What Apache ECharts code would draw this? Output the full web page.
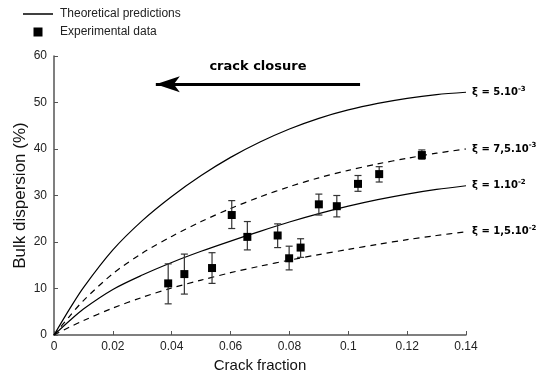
<!DOCTYPE html>
<html>
<head>
<meta charset="utf-8">
<script src="https://cdn.jsdelivr.net/npm/echarts@6/dist/echarts.min.js"></script>
<style>
  html, body { margin: 0; padding: 0; background: #fff; }
  #main { width: 537px; height: 370px; }
</style>
</head>
<body>
<div id="main"></div>
<script>
// crack fraction values where the model curves were read
const curveX = [0, 0.005, 0.01, 0.02, 0.03, 0.04, 0.05, 0.06, 0.07, 0.08, 0.09, 0.10, 0.11, 0.12, 0.13, 0.14];
// theoretical predictions (bulk dispersion %)
const xi5e3   = [0, 5.3, 10.2, 18.3, 24.6, 29.8, 34.3, 38.2, 41.5, 44.3, 46.6, 48.4, 49.8, 50.9, 51.7, 52.2];
const xi75e3  = [0, 3.8, 7.4, 13.2, 17.6, 21.2, 24.4, 27.2, 29.7, 31.9, 33.8, 35.4, 36.8, 38.0, 39.1, 40.0];
const xi1e2   = [0, 2.9, 5.6, 9.8, 12.9, 15.6, 18.0, 20.2, 22.3, 24.3, 26.1, 27.7, 29.1, 30.3, 31.3, 32.1];
const xi15e2  = [0, 1.6, 3.1, 5.8, 8.1, 10.1, 11.8, 13.4, 14.8, 16.1, 17.3, 18.4, 19.5, 20.5, 21.4, 22.2];

// experimental data
const expX    = [0.0388, 0.0443, 0.0537, 0.0604, 0.0657, 0.076, 0.0799, 0.0838, 0.090, 0.0961, 0.1033, 0.1105, 0.125];
const expY    = [11.1, 13.1, 14.4, 25.8, 21.1, 21.4, 16.5, 18.8, 28.1, 27.7, 32.5, 34.6, 38.7];
const expLow  = [6.7, 8.8, 11.1, 22.9, 18.3, 18.8, 14.0, 16.7, 25.8, 25.4, 30.9, 32.9, 37.8];
const expHigh = [15.3, 17.4, 17.7, 28.9, 24.4, 23.9, 19.1, 20.7, 30.3, 30.0, 34.3, 36.2, 39.8];

// "crack closure" arrow, in data units
const arrowFrom = [0.104, 53.9];
const arrowTo   = [0.0346, 53.9];

const zip = (xs, ys) => xs.map((x, i) => [x, ys[i]]);

const labelRich = {
  a: { fontFamily: 'DejaVu Sans', fontWeight: 'bold', fontSize: 10, color: '#000' },
  s: { fontFamily: 'DejaVu Sans', fontWeight: 'bold', fontSize: 7, color: '#000', padding: [0, 0, 7, 0] }
};

function curve(data, dashed, label) {
  return {
    name: 'Theoretical predictions',
    type: 'line',
    data: data,
    showSymbol: false,
    smooth: 0.3,
    color: '#000',
    lineStyle: { color: '#000', width: 1.2, type: dashed ? [6, 5] : 'solid' },
    endLabel: {
      show: true,
      distance: 6,
      formatter: label,
      rich: labelRich
    },
    silent: true,
    z: 2
  };
}

const chart = echarts.init(document.getElementById('main'));

const option = {
  animation: false,
  legend: [
    {
      data: [{ name: 'Theoretical predictions', icon: 'rect' }],
      left: 23,
      top: 8,
      padding: 0,
      itemWidth: 30,
      itemHeight: 1.5,
      textStyle: { fontFamily: 'Liberation Sans', fontSize: 12, color: '#222', padding: [0, 0, 0, 2] }
    },
    {
      data: [{ name: 'Experimental data', icon: 'rect' }],
      left: 33.5,
      top: 26,
      padding: 0,
      itemWidth: 9,
      itemHeight: 9,
      textStyle: { fontFamily: 'Liberation Sans', fontSize: 12, color: '#222', padding: [0, 0, 0, 12.5] }
    }
  ],
  grid: { left: 54, right: 71, top: 56, bottom: 35, outerBoundsMode: 'none' },
  xAxis: {
    type: 'value',
    min: 0,
    max: 0.14,
    interval: 0.02,
    name: 'Crack fraction',
    nameLocation: 'middle',
    nameGap: 20,
    nameTextStyle: { fontFamily: 'Liberation Sans', fontSize: 15, color: '#111' },
    axisLine: { lineStyle: { color: '#555', width: 1.5 } },
    axisTick: { inside: true, length: 4, lineStyle: { color: '#555' } },
    axisLabel: { fontFamily: 'Liberation Sans', fontSize: 12, color: '#222', margin: 6 },
    splitLine: { show: false }
  },
  yAxis: {
    type: 'value',
    min: 0,
    max: 60,
    interval: 10,
    name: 'Bulk dispersion (%)',
    nameLocation: 'middle',
    nameGap: 25,
    nameMoveOverlap: false,
    nameTextStyle: { fontFamily: 'Liberation Sans', fontSize: 17, color: '#111' },
    axisLine: { show: true, lineStyle: { color: '#555', width: 1.5 } },
    axisTick: { show: true, inside: true, length: 4, lineStyle: { color: '#555' } },
    axisLabel: { fontFamily: 'Liberation Sans', fontSize: 12, color: '#222', margin: 7 },
    splitLine: { show: false }
  },
  series: [
    curve(zip(curveX, xi5e3), false, '{a|ξ = 5.10}{s|-3}'),
    curve(zip(curveX, xi75e3), true, '{a|ξ = 7,5.10}{s|-3}'),
    curve(zip(curveX, xi1e2), false, '{a|ξ = 1.10}{s|-2}'),
    curve(zip(curveX, xi15e2), true, '{a|ξ = 1,5.10}{s|-2}'),
    {
      name: 'errors',
      type: 'custom',
      data: expX.map((x, i) => [x, expLow[i], expHigh[i]]),
      renderItem: function (params, api) {
        const lo = api.coord([api.value(0), api.value(1)]);
        const hi = api.coord([api.value(0), api.value(2)]);
        const w = 3.5;
        const style = { stroke: '#333', lineWidth: 1.2 };
        return {
          type: 'group',
          children: [
            { type: 'line', shape: { x1: lo[0], y1: lo[1], x2: hi[0], y2: hi[1] }, style: style },
            { type: 'line', shape: { x1: lo[0] - w, y1: lo[1], x2: lo[0] + w, y2: lo[1] }, style: style },
            { type: 'line', shape: { x1: hi[0] - w, y1: hi[1], x2: hi[0] + w, y2: hi[1] }, style: style }
          ]
        };
      },
      silent: true,
      z: 3
    },
    {
      name: 'Experimental data',
      type: 'scatter',
      data: zip(expX, expY),
      symbol: 'rect',
      symbolSize: 8,
      color: '#000',
      itemStyle: { color: '#000', opacity: 1 },
      z: 4,
      markLine: {
        silent: true,
        symbol: ['none', 'arrow'],
        lineStyle: { color: '#000', width: 3, type: 'solid' },
        label: {
          show: true,
          position: 'middle',
          formatter: 'crack closure',
          distance: 11,
          fontFamily: 'DejaVu Sans',
          fontWeight: 'bold',
          fontSize: 13,
          color: '#000'
        },
        data: [[
          { coord: arrowFrom, symbol: 'none' },
          { coord: arrowTo, symbol: 'arrow', symbolSize: [12, 24] }
        ]]
      }
    }
  ]
};

chart.setOption(option);
</script>
</body>
</html>
